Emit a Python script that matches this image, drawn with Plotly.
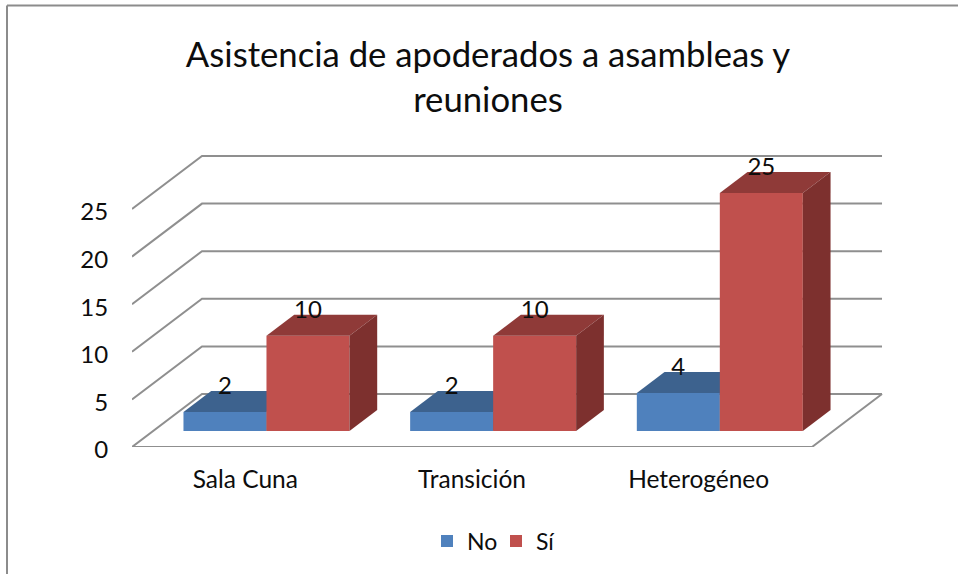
import plotly.graph_objects as go

categories = ["Sala Cuna", "Transición", "Heterogéneo"]
no_values = [2, 2, 4]
si_values = [10, 10, 25]
value_ticks = [0, 5, 10, 15, 20, 25]
title_text = "Asistencia de apoderados a asambleas y<br>reuniones"

FONT = "Lato, Carlito, Calibri, sans-serif"
INK = "#0d0d0d"
GRID = "#8f8f8f"
NO_FRONT, NO_TOP, NO_SIDE = "#4f81bd", "#3d628e", "#34547a"
SI_FRONT, SI_TOP, SI_SIDE = "#c0504d", "#8f3a38", "#7d302e"

# Plot frame (px) and oblique projection of the "3D" box
L, R, T, B = 132, 68, 140, 128
PX_PER_CAT = 226.67
PX_PER_VAL = 9.52
X_RANGE = [-0.5, -0.5 + (958 - L - R) / PX_PER_CAT]
Y_RANGE = [0, (575 - T - B) / PX_PER_VAL]
DX = 70 / PX_PER_CAT        # full floor depth, category units
DY = 53 / PX_PER_VAL        # full floor depth, value units
D_FRONT = 0.302             # bar front plane, fraction of depth
D_BACK = D_FRONT + 0.396    # bar back plane
BAR_W = 83 / PX_PER_CAT


def proj(x, v, d):
    return x + d * DX, v + d * DY


def poly(points, color, xa, ya):
    xs, ys = zip(*[proj(*p) for p in points])
    return go.Scatter(x=list(xs) + [xs[0]], y=list(ys) + [ys[0]], mode="lines", fill="toself",
                      fillcolor=color, line=dict(width=0, color=color), showlegend=False,
                      hoverinfo="skip", xaxis=xa, yaxis=ya, cliponaxis=False)


fig = go.Figure()

# Walls and floor
n = len(categories)
x_left, x_right = -0.5, n - 0.5
for v in value_ticks:
    xs, ys = zip(*[proj(x_left, v, 0), proj(x_left, v, 1), proj(x_right, v, 1)])
    fig.add_trace(go.Scatter(x=list(xs), y=list(ys), mode="lines", line=dict(color=GRID, width=2),
                             showlegend=False, hoverinfo="skip", cliponaxis=False))
xs, ys = zip(*[proj(x_left, 0, 0), proj(x_right, 0, 0), proj(x_right, 0, 1)])
fig.add_trace(go.Scatter(x=list(xs), y=list(ys), mode="lines", line=dict(color=GRID, width=2),
                         showlegend=False, hoverinfo="skip", cliponaxis=False))


def add_series(name, values, offset, front, top, side, xa, ya):
    centers = [i + offset for i in range(n)]
    bx = [proj(c, 0, D_FRONT)[0] for c in centers]
    base = proj(0, 0, D_FRONT)[1]
    fig.add_trace(go.Bar(name=name, x=bx, y=values, base=[base] * n, width=BAR_W,
                         marker=dict(color=front, line=dict(width=0)), hoverinfo="skip",
                         xaxis=xa, yaxis=ya))
    for c, v in zip(centers, values):
        l, r = c - BAR_W / 2, c + BAR_W / 2
        fig.add_trace(poly([(l, v, D_FRONT), (r, v, D_FRONT), (r, v, D_BACK), (l, v, D_BACK)], top, xa, ya))
        fig.add_trace(poly([(r, 0, D_FRONT), (r, v, D_FRONT), (r, v, D_BACK), (r, 0, D_BACK)], side, xa, ya))


add_series("No", no_values, -BAR_W / 2, NO_FRONT, NO_TOP, NO_SIDE, "x2", "y2")
add_series("Sí", si_values, BAR_W / 2, SI_FRONT, SI_TOP, SI_SIDE, "x3", "y3")

# Data labels
LABEL_LIFT = 2.55
for values, offset in ((no_values, -BAR_W / 2), (si_values, BAR_W / 2)):
    pts = [proj(i + offset, v + LABEL_LIFT, D_FRONT) for i, v in enumerate(values)]
    fig.add_trace(go.Scatter(x=[p[0] for p in pts], y=[p[1] for p in pts], text=[str(v) for v in values],
                             mode="text", textposition="middle center",
                             textfont=dict(family=FONT, size=24, color=INK),
                             showlegend=False, hoverinfo="skip", xaxis="x3", yaxis="y3", cliponaxis=False))

plot_w = 958 - L - R
plot_h = 575 - T - B
fig.update_layout(
    width=958, height=575, autosize=False,
    margin=dict(l=L, r=R, t=T, b=B, pad=0),
    paper_bgcolor="white", plot_bgcolor="rgba(0,0,0,0)",
    barmode="overlay",
    font=dict(family=FONT, color=INK),
    title=dict(text=title_text, x=488 / 958, xanchor="center", y=1 - 67 / 575, yanchor="top",
               xref="container", yref="container",
               font=dict(family=FONT, size=34.7, color=INK)),
    xaxis=dict(range=X_RANGE, tickmode="array", tickvals=list(range(n)), ticktext=categories,
               showgrid=False, zeroline=False, showline=False, ticks="outside", ticklen=11,
               tickcolor="rgba(0,0,0,0)", tickfont=dict(family=FONT, size=24.5, color=INK)),
    yaxis=dict(range=Y_RANGE, tickmode="array", tickvals=value_ticks,
               showgrid=False, zeroline=False, showline=False, ticks="outside", ticklen=18,
               ticklabelshift=3,
               tickcolor="rgba(0,0,0,0)", tickfont=dict(family=FONT, size=24, color=INK)),
    xaxis2=dict(range=X_RANGE, overlaying="x", visible=False),
    yaxis2=dict(range=Y_RANGE, overlaying="y", visible=False),
    xaxis3=dict(range=X_RANGE, overlaying="x", visible=False),
    yaxis3=dict(range=Y_RANGE, overlaying="y", visible=False),
    legend=dict(orientation="h", x=(427 - L) / plot_w, xanchor="left", y=(447 - 541) / plot_h, yanchor="middle",
                entrywidth=24, entrywidthmode="pixels",
                font=dict(family=FONT, size=23, color=INK), bgcolor="rgba(0,0,0,0)"),
    shapes=[
        dict(type="line", xref="paper", yref="paper", x0=(7 - L) / plot_w, x1=1 + R / plot_w,
             y0=(447 - 5.5) / plot_h, y1=(447 - 5.5) / plot_h, line=dict(color="#8c8c8c", width=2)),
        dict(type="line", xref="paper", yref="paper", x0=(7 - L) / plot_w, x1=(7 - L) / plot_w,
             y0=(447 - 5.5) / plot_h, y1=(447 - 574) / plot_h, line=dict(color="#8c8c8c", width=2)),
    ],
)

fig.write_html("out.html", config={"displayModeBar": False},
               post_script="document.body.style.margin='0';")
